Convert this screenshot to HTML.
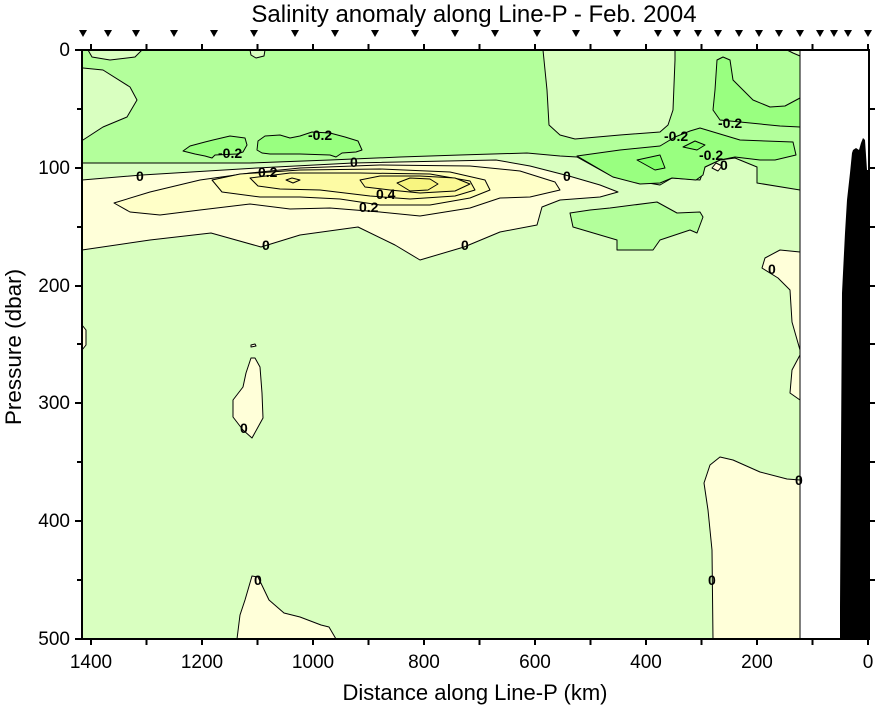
<!DOCTYPE html>
<html><head><meta charset="utf-8"><style>
html,body{margin:0;padding:0;background:#fff;}
svg{display:block;font-family:"Liberation Sans",sans-serif;}
.c{stroke:#000;stroke-width:1;stroke-linejoin:round;}
.lb{font-size:14px;font-weight:bold;}
</style></head><body>
<svg width="878" height="708" viewBox="0 0 878 708" xmlns="http://www.w3.org/2000/svg">
<rect x="0" y="0" width="878" height="708" fill="#fff"/>
<rect x="82" y="50" width="718" height="589" fill="#d9ffc0"/>
<polygon class="c" fill="#b3ff9b" points="82,50 800,50 800,190 757,183 757,167 735,158 720,160 705,167 700,180 672,178 660,185 613,177 577,157 560,156 527,153 460,155 400,157 330,160 250,163 82,163"/>
<polygon class="c" fill="#d9ffc0" points="83,68 103,70 130,87 137,100 127,117 103,127 83,140 82,140 82,68"/>
<polygon class="c" fill="#d9ffc0" points="88,50 142,50 135,57 110,60 92,57"/>
<polygon class="c" fill="#d9ffc0" points="250,50 265,50 264,56 256,58 251,55"/>
<polygon class="c" fill="#d9ffc0" points="543,50 675,50 675,60 673,110 668,125 660,132 620,135 575,139 560,135 549,125 547,90"/>
<polygon class="c" fill="#d9ffc0" points="787,50 800,50 800,56 793,53"/>
<polygon class="c" fill="#99ff80" points="183,151 190,146 205,142 213,140 230,136 245,138 247,145 243,152 237,154 215,155 212,158 205,156 195,154"/>
<polygon class="c" fill="#99ff80" points="257,150 258,141 265,136 280,135 290,138 300,136 312,132 330,133 345,137 358,141 362,150 356,152 342,153 336,157 330,155 300,154 270,154 262,153"/>
<polygon class="c" fill="#99ff80" points="717,60 723,57 730,60 733,80 745,92 753,100 770,107 785,106 800,98 800,127 780,126 740,122 720,120 713,110 715,90"/>
<polygon class="c" fill="#99ff80" points="577,156 620,150 660,146 675,137 690,131 700,128 720,134 740,140 793,142 796,155 775,160 760,160 735,157 720,160 705,167 703,175 696,180 672,178 660,183 640,184 613,177"/>
<polygon class="c" fill="#80ff68" points="637,160 660,155 665,168 655,170"/>
<polygon class="c" fill="#80ff68" points="683,147 695,141 705,145 697,150"/>
<polygon class="c" fill="#b3ff9b" points="570,213 590,210 610,208 657,202 677,213 700,212 703,217 697,233 690,230 660,240 653,250 617,250 617,240 573,227"/>
<polygon class="c" fill="#ffffd9" points="82,180 142,175 257,168 353,163 496,160 530,166 569,176 600,185 618,192 600,197 560,200 542,207 537,225 500,232 464,247 420,260 395,245 358,227 300,235 261,247 211,233 150,240 82,250"/>
<polygon class="c" fill="#ffffd9" points="712,168 716,163 722,166 718,171"/>
<polygon class="c" fill="#ffffc8" points="114,203 150,192 200,180 250,173 300,168 380,165 470,166 520,171 555,182 560,190 530,197 500,198 470,208 420,216 380,212 330,208 290,209 250,204 200,210 160,215 130,212"/>
<polygon class="c" fill="#ffffb4" points="212,180 240,174 300,170 380,169 450,172 485,180 490,190 470,198 430,205 380,205 340,199 300,197 260,197 222,192"/>
<polygon class="c" fill="#fdfba4" points="250,178 290,173 360,173 430,174 470,181 475,190 455,196 410,199 370,196 320,190 280,189 258,186"/>
<polygon class="c" fill="#fbf894" points="360,180 380,176 420,176 455,178 470,184 455,191 420,193 390,190 365,187"/>
<polygon class="c" fill="#f8f580" points="397,183 410,178 430,179 438,184 428,190 410,191"/>
<polygon class="c" fill="#fbf894" points="286,180 292,178 300,180 293,183"/>
<polygon class="c" fill="#ffffd9" points="251,358 255,358 260,367 262,393 263,418 252,438 243,430 233,417 233,400 243,387 246,373"/>
<polygon class="c" fill="#ffffd9" points="251,345 255,344 256,346 251,347"/>
<polygon class="c" fill="#ffffd9" points="237,639 240,615 245,600 252,576 258,577 269,600 284,613 300,617 321,625 329,627 336,639"/>
<polygon class="c" fill="#ffffd9" points="713,639 712,550 708,510 704,483 710,465 720,457 733,460 760,472 787,479 800,480 800,639"/>
<polygon class="c" fill="#ffffd9" points="762,268 765,258 780,250 800,252 800,350 792,322 790,290 778,278"/>
<polygon class="c" fill="#ffffd9" points="800,355 792,370 790,393 800,400"/>
<polygon class="c" fill="#ffffd9" points="82,325 86,330 86,345 82,350"/>
<rect x="800" y="50" width="69" height="589" fill="#fff"/>
<line x1="800" y1="50" x2="800" y2="639" stroke="#000" stroke-width="1"/>
<polygon fill="#000" points="840,639 840,607 842,293 843,273 845,233 847,200 850,173 852,153 853,150 856,148 859,150 861,143 863,138 865,140 867,170 869,170 869,639"/>
<rect x="82" y="50" width="787" height="589" fill="none" stroke="#000" stroke-width="2"/>
<g stroke="#000" stroke-width="2">
<line x1="91" y1="639" x2="91" y2="645"/><line x1="146.5" y1="639" x2="146.5" y2="645"/><line x1="202" y1="639" x2="202" y2="645"/><line x1="257.5" y1="639" x2="257.5" y2="645"/><line x1="313" y1="639" x2="313" y2="645"/><line x1="368.5" y1="639" x2="368.5" y2="645"/><line x1="424" y1="639" x2="424" y2="645"/><line x1="479.5" y1="639" x2="479.5" y2="645"/><line x1="535" y1="639" x2="535" y2="645"/><line x1="590.5" y1="639" x2="590.5" y2="645"/><line x1="646" y1="639" x2="646" y2="645"/><line x1="701.5" y1="639" x2="701.5" y2="645"/><line x1="757" y1="639" x2="757" y2="645"/><line x1="812.5" y1="639" x2="812.5" y2="645"/><line x1="868" y1="639" x2="868" y2="645"/>
<line x1="91" y1="50" x2="91" y2="44"/><line x1="146.5" y1="50" x2="146.5" y2="44"/><line x1="202" y1="50" x2="202" y2="44"/><line x1="257.5" y1="50" x2="257.5" y2="44"/><line x1="313" y1="50" x2="313" y2="44"/><line x1="368.5" y1="50" x2="368.5" y2="44"/><line x1="424" y1="50" x2="424" y2="44"/><line x1="479.5" y1="50" x2="479.5" y2="44"/><line x1="535" y1="50" x2="535" y2="44"/><line x1="590.5" y1="50" x2="590.5" y2="44"/><line x1="646" y1="50" x2="646" y2="44"/><line x1="701.5" y1="50" x2="701.5" y2="44"/><line x1="757" y1="50" x2="757" y2="44"/><line x1="812.5" y1="50" x2="812.5" y2="44"/><line x1="868" y1="50" x2="868" y2="44"/>
<line x1="82" y1="50" x2="75" y2="50"/><line x1="82" y1="109" x2="77" y2="109"/><line x1="82" y1="168" x2="75" y2="168"/><line x1="82" y1="227" x2="77" y2="227"/><line x1="82" y1="286" x2="75" y2="286"/><line x1="82" y1="344" x2="77" y2="344"/><line x1="82" y1="403" x2="75" y2="403"/><line x1="82" y1="462" x2="77" y2="462"/><line x1="82" y1="521" x2="75" y2="521"/><line x1="82" y1="580" x2="77" y2="580"/><line x1="82" y1="639" x2="75" y2="639"/>
<line x1="869" y1="109" x2="875" y2="109"/><line x1="869" y1="168" x2="875" y2="168"/><line x1="869" y1="227" x2="875" y2="227"/><line x1="869" y1="286" x2="875" y2="286"/><line x1="869" y1="344" x2="875" y2="344"/><line x1="869" y1="403" x2="875" y2="403"/><line x1="869" y1="462" x2="875" y2="462"/><line x1="869" y1="521" x2="875" y2="521"/><line x1="869" y1="580" x2="875" y2="580"/>
</g>
<g fill="#000">
<path d="M79,30h8l-4,7z"/><path d="M104,30h8l-4,7z"/><path d="M132,30h8l-4,7z"/><path d="M170,30h8l-4,7z"/><path d="M210,30h8l-4,7z"/><path d="M250,30h8l-4,7z"/><path d="M291,30h8l-4,7z"/><path d="M331,30h8l-4,7z"/><path d="M371,30h8l-4,7z"/><path d="M411,30h8l-4,7z"/><path d="M451,30h8l-4,7z"/><path d="M491,30h8l-4,7z"/><path d="M533,30h8l-4,7z"/><path d="M572,30h8l-4,7z"/><path d="M613,30h8l-4,7z"/><path d="M654,30h8l-4,7z"/><path d="M673,30h8l-4,7z"/><path d="M694,30h8l-4,7z"/><path d="M714,30h8l-4,7z"/><path d="M735,30h8l-4,7z"/><path d="M755,30h8l-4,7z"/><path d="M775,30h8l-4,7z"/><path d="M796,30h8l-4,7z"/><path d="M816,30h8l-4,7z"/><path d="M830,30h8l-4,7z"/><path d="M844,30h8l-4,7z"/><path d="M864,30h8l-4,7z"/>
</g>
<g class="lb">
<text x="218" y="158">-0.2</text><text x="308" y="140">-0.2</text>
<text x="136" y="181">0</text><text x="350" y="167">0</text><text x="563" y="181">0</text>
<text x="258" y="177">0.2</text><text x="359" y="212">0.2</text><text x="376" y="199">0.4</text>
<text x="262" y="250">0</text><text x="461" y="250">0</text>
<text x="664" y="141">-0.2</text><text x="699" y="160">-0.2</text><text x="718" y="128">-0.2</text>
<text x="720" y="170">0</text><text x="768" y="274">0</text>
<text x="240" y="433">0</text><text x="254" y="585">0</text><text x="708" y="585">0</text><text x="795" y="485">0</text>
</g>
<g font-size="19" fill="#000">
<text x="70" y="56" text-anchor="end">0</text>
<text x="70" y="174" text-anchor="end">100</text>
<text x="70" y="292" text-anchor="end">200</text>
<text x="70" y="409" text-anchor="end">300</text>
<text x="70" y="527" text-anchor="end">400</text>
<text x="70" y="645" text-anchor="end">500</text>
<text x="91" y="668" text-anchor="middle">1400</text>
<text x="202" y="668" text-anchor="middle">1200</text>
<text x="313" y="668" text-anchor="middle">1000</text>
<text x="424" y="668" text-anchor="middle">800</text>
<text x="535" y="668" text-anchor="middle">600</text>
<text x="646" y="668" text-anchor="middle">400</text>
<text x="757" y="668" text-anchor="middle">200</text>
<text x="868" y="668" text-anchor="middle">0</text>
<text x="475" y="700" text-anchor="middle" font-size="22">Distance along Line-P (km)</text>
<text x="474" y="22" text-anchor="middle" font-size="24">Salinity anomaly along Line-P - Feb. 2004</text>
<text transform="translate(21,347) rotate(-90)" text-anchor="middle" font-size="22.5">Pressure (dbar)</text>
</g>
</svg>
</body></html>
